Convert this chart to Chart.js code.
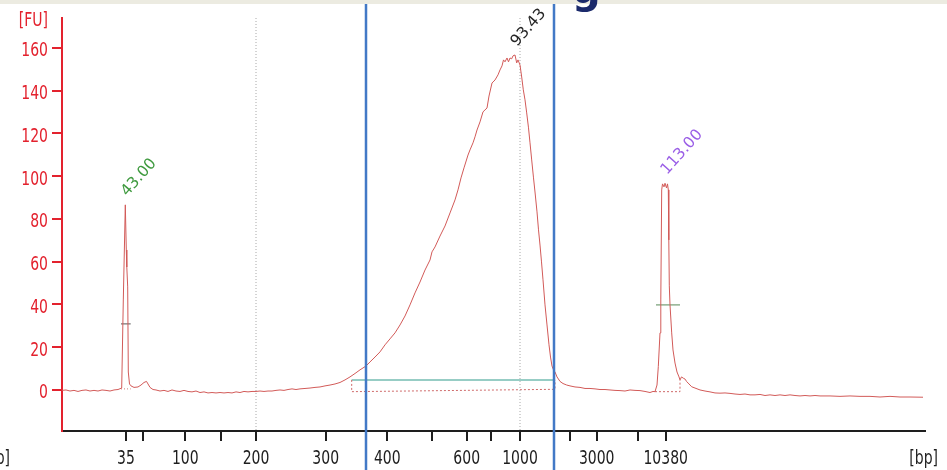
<!DOCTYPE html>
<html>
<head>
<meta charset="utf-8">
<script src="https://cdn.jsdelivr.net/npm/chart.js@4.4.0/dist/chart.umd.min.js"></script>
<style>
  html, body { margin: 0; padding: 0; background: #fff; }
  #wrap { width: 947px; height: 470px; position: relative; }
</style>
</head>
<body>
<div id="wrap"><canvas id="chart" width="947" height="470"></canvas></div>
<script>
// electropherogram trace: migration time (s) and fluorescence (FU)
const traceTime = [
  40.0, 40.4, 40.8, 41.2, 41.6, 42.0, 42.4, 42.8, 43.2, 43.6, 44.0, 44.4, 44.8, 45.2, 45.6, 45.97,
  46.13, 46.33, 46.43, 46.48, 46.57, 46.63, 46.75, 46.9, 47.2, 47.6, 47.9, 48.2, 48.45, 48.6, 48.8,
  49.1, 49.4, 49.8, 50.2, 50.6, 51.0, 51.4, 51.8, 52.2, 52.6, 53.0, 53.4, 53.8, 54.2, 54.6, 55.0,
  55.4, 55.8, 56.2, 56.6, 57.0, 57.4, 57.8, 58.2, 58.6, 59.0, 59.4, 59.8, 60.2, 60.6, 61.0, 61.4,
  61.8, 62.2, 62.6, 63.0, 63.4, 63.8, 64.3, 64.8, 65.3, 65.8, 66.3, 66.8, 67.3, 67.8, 68.3, 68.8,
  69.3, 69.8, 70.4, 70.8, 71.3, 71.8, 72.3, 72.8, 73.3, 73.8, 74.3, 74.8, 75.3, 75.8, 76.3, 76.8,
  77.0, 77.3, 77.8, 78.3, 78.8, 79.3, 79.6, 79.9, 80.2, 80.6, 80.8, 81.1, 81.3, 81.5, 81.8, 82.1,
  82.3, 82.5, 82.7, 83.0, 83.3, 83.6, 83.8, 84.0, 84.15, 84.3, 84.5, 84.65, 84.8, 84.97, 85.1, 85.3,
  85.47, 85.6, 85.8, 85.97, 86.13, 86.3, 86.47, 86.65, 86.8, 86.97, 87.15, 87.3, 87.5, 87.65, 87.8,
  87.95, 88.1, 88.3, 88.5, 88.7, 88.85, 89.0, 89.15, 89.3, 89.5, 89.8, 90.1, 90.47, 90.8, 91.3,
  91.8, 92.3, 92.8, 93.3, 93.8, 94.3, 94.8, 95.3, 95.8, 96.3, 96.8, 97.3, 97.8, 98.3, 98.8, 99.1,
  99.3, 99.5, 99.63, 99.8, 99.88, 99.97, 100.05, 100.2, 100.3, 100.45, 100.55, 100.63, 100.68, 100.73,
  100.8, 100.97, 101.1, 101.3, 101.5, 101.7, 101.8, 101.95, 102.13, 102.3, 102.47, 102.7, 102.97,
  103.3, 103.8, 104.3, 104.8, 105.3, 105.8, 106.3, 106.8, 107.3, 107.8, 108.3, 108.8, 109.3, 109.8,
  110.3, 110.8, 111.3, 111.8, 112.3, 112.8, 113.3, 113.8, 114.3, 114.8, 115.3, 115.8, 116.8, 117.8,
  118.8, 119.8, 120.8, 121.8, 122.8, 123.8, 124.8, 126.1
];
const traceFU = [
  -0.2, 0.0, -0.5, -0.2, -0.7, -0.2, 0.0, -0.5, -0.2, -0.5, 0.0, -0.2, -0.5, 0.0, 0.2, 0.9,
  42.1, 86.6, 65.5, 57.5, 48.2, 8.4, 2.8, 1.9, 1.2, 1.4, 2.3, 3.5, 4.0, 2.8, 1.2,
  0.2, 0.0, -0.5, -0.2, -0.7, 0.0, -0.5, -0.7, -0.2, -0.7, -0.9, -0.5, -1.2, -0.9, -1.4, -1.2,
  -1.4, -1.2, -1.4, -1.2, -1.4, -0.9, -1.2, -0.7, -0.9, -0.7, -0.7, -0.5, -0.7, -0.5, -0.5, -0.2,
  0.0, -0.2, 0.2, 0.5, 0.2, 0.5, 0.7, 0.9, 1.2, 1.4, 1.9, 2.3, 2.8, 3.5, 4.7, 6.1,
  7.7, 9.4, 11.2, 13.1, 15.4, 17.8, 21.1, 23.9, 26.7, 30.4, 34.6, 39.8, 45.4, 50.5, 56.1, 60.8,
  64.6, 66.9, 72.0, 76.7, 82.8, 88.9, 93.6, 99.2, 103.9, 109.9, 112.3, 115.6, 118.4, 121.6, 125.4, 130.1,
  131.0, 131.9, 137.5, 143.6, 145.0, 147.4, 149.7, 151.6, 154.4, 153.5, 155.3, 153.5, 155.3, 154.9, 156.3, 156.7,
  153.0, 154.4, 152.0, 146.4, 140.4, 135.7, 129.6, 122.6, 115.6, 107.6, 99.2, 92.6, 83.3, 74.9, 67.8,
  59.9, 51.5, 39.8, 30.4, 21.1, 15.4, 11.2, 9.4, 8.4, 6.1, 4.0, 3.0, 2.3, 1.9, 1.4,
  1.2, 0.7, 0.7, 0.5, 0.2, 0.2, 0.0, -0.2, -0.3, -0.5, 0.0, -0.2, -0.3, -0.7, -1.2, -0.7,
  -0.8, 2.3, 10.9, 26.7, 42.1, 93.6, 96.4, 95.0, 96.7, 94.5, 96.4, 93.6, 70.2, 48.7,
  39.8, 26.7, 18.7, 12.6, 8.4, 6.1, 4.7, 6.1, 5.5, 5.1, 3.9, 2.8, 1.5,
  0.9, 0.0, -0.5, -0.9, -1.4, -1.5, -1.4, -1.6, -1.9, -2.1, -1.9, -2.3, -2.3, -2.1,
  -2.6, -2.3, -2.6, -2.3, -2.6, -2.3, -2.6, -2.8, -2.6, -2.8, -2.6, -2.8, -2.8, -3.0,
  -2.8, -3.0, -3.0, -3.3, -3.0, -3.3, -3.3, -3.4
];

// ladder sizes (bp) at their migration times
const ladderTime = [46.4, 48.07, 52.33, 55.87, 59.4, 66.37, 72.53, 76.97, 80.47, 82.9, 85.8, 90.8, 93.47, 97.63, 100.37];
const ladderLabel = ['35', '', '100', '', '200', '300', '400', '', '600', '', '1000', '', '3000', '', '10380'];
const fuTicks = [0, 20, 40, 60, 80, 100, 120, 140, 160];

// called peaks
const peakTime = [46.33, 85.3, 100.3];
const peakFU = [86.6, 156.7, 96.7];
const peakLabel = ['43.00', '93.43', '113.00'];

// markers, region and cursors
const lowerMarkerTime = [45.9, 46.87];
const lowerMarkerFU = [30.9, 30.9];
const upperMarkerTime = [99.4, 101.8];
const upperMarkerFU = [39.8, 39.8];
const upperBaseTime = [99.3, 101.8, 101.8];
const upperBaseFU = [-0.8, -0.8, 4.7];
const lowerBaseTime = [45.9, 46.87];
const lowerBaseFU = [0.5, 0.5];
const regionTime = [68.97, 89.3];
const regionFU = [4.7, 4.7];
const regionBoxTime = [68.97, 68.97, 89.3, 89.3];
const regionBoxFU = [4.7, -0.8, 0.3, 4.7];
const guideTime = [59.4, 85.8];
const cursorTime = [70.4, 89.2];

const FU_MIN = -19.2, FU_MAX = 174;
const T_MIN = 40, T_MAX = 126.3;

const pts = (xs, ys) => xs.map((v, i) => ({ x: v, y: ys[i] }));

const RED = '#e3222e';
const INK = '#1e1e1e';
const K = 1.35; // vertical stretch of the source text

function tallText(ctx, text, x, y, align) {
  ctx.save();
  ctx.translate(x, y);
  ctx.scale(1, K);
  ctx.textAlign = align;
  ctx.textBaseline = 'alphabetic';
  ctx.fillText(text, 0, 0);
  ctx.restore();
}

const decor = {
  id: 'decor',
  afterDraw(chart) {
    const { ctx, chartArea, scales: { x, y } } = chart;
    ctx.save();
    ctx.font = '14px "DejaVu Sans"';

    // x tick labels
    ctx.fillStyle = INK;
    ladderTime.forEach((t, i) => {
      if (!ladderLabel[i]) return;
      tallText(ctx, ladderLabel[i], x.getPixelForValue(t), chartArea.bottom + 32.5, 'center');
    });
    tallText(ctx, '[bp]', 938, chartArea.bottom + 33, 'right');
    tallText(ctx, '[bp]', 10, chartArea.bottom + 33, 'right');

    // y tick labels
    ctx.fillStyle = RED;
    fuTicks.forEach(v => {
      tallText(ctx, String(v), chartArea.left - 14, y.getPixelForValue(v) + 8.5, 'right');
    });
    tallText(ctx, '[FU]', chartArea.left - 14, chartArea.top + 7.5, 'right');

    // peak labels
    const peakColor = ['#3f9a3f', '#262626', '#9a5ee6'];
    ctx.font = '15.5px "DejaVu Sans"';
    peakTime.forEach((t, i) => {
      ctx.save();
      ctx.translate(x.getPixelForValue(t) + 2, y.getPixelForValue(peakFU[i]) - 8);
      ctx.rotate(-48.5 * Math.PI / 180);
      ctx.fillStyle = peakColor[i];
      ctx.textAlign = 'left';
      ctx.textBaseline = 'alphabetic';
      ctx.fillText(peakLabel[i], 0, 0);
      ctx.restore();
    });

    // blue region cursors, full height
    ctx.strokeStyle = '#4279c6';
    ctx.lineWidth = 2.5;
    cursorTime.forEach(t => {
      const px = Math.round(x.getPixelForValue(t));
      ctx.beginPath();
      ctx.moveTo(px, 0);
      ctx.lineTo(px, chart.height);
      ctx.stroke();
    });

    // slide band and cut-off title glyph
    ctx.fillStyle = '#ecebe1';
    ctx.fillRect(0, 0, chart.width, 4);
    ctx.fillStyle = '#1b2a6b';
    ctx.font = 'bold 40px "DejaVu Sans"';
    ctx.textAlign = 'left';
    ctx.textBaseline = 'alphabetic';
    ctx.fillText('g', 572, 3);
    ctx.restore();
  }
};

const thin = (color, extra) => Object.assign({
  type: 'line', borderColor: color, borderWidth: 1, pointRadius: 0, tension: 0, order: 1, fill: false
}, extra || {});

new Chart(document.getElementById('chart'), {
  type: 'line',
  data: {
    datasets: [
      thin('#d25a58', { data: pts(traceTime, traceFU), order: 0 }),
      thin('#a8a8a8', { data: pts([guideTime[0], guideTime[0]], [FU_MAX, FU_MIN]), borderDash: [1, 2] }),
      thin('#a8a8a8', { data: pts([guideTime[1], guideTime[1]], [FU_MAX, FU_MIN]), borderDash: [1, 2] }),
      thin('#cf6a6a', { data: pts(regionBoxTime, regionBoxFU), borderDash: [2, 2] }),
      thin('#74bdb2', { data: pts(regionTime, regionFU), borderWidth: 1.5 }),
      thin('#555555', { data: pts(lowerMarkerTime, lowerMarkerFU) }),
      thin('#cf7a7a', { data: pts(lowerBaseTime, lowerBaseFU), borderDash: [1, 2] }),
      thin('#8fb08f', { data: pts(upperMarkerTime, upperMarkerFU), borderWidth: 1.5 }),
      thin('#cf6a6a', { data: pts(upperBaseTime, upperBaseFU), borderDash: [2, 2] })
    ]
  },
  options: {
    responsive: false,
    animation: false,
    events: [],
    layout: { padding: { top: 18, right: 22, bottom: 0, left: 0 } },
    plugins: { legend: { display: false }, tooltip: { enabled: false } },
    scales: {
      x: {
        type: 'linear',
        min: T_MIN,
        max: T_MAX,
        afterBuildTicks: s => { s.ticks = ladderTime.map(v => ({ value: v })); },
        afterFit: s => { s.height = 39; },
        ticks: { display: false },
        grid: { drawOnChartArea: false, drawTicks: true, tickLength: 10, color: INK, lineWidth: 2 },
        border: { color: INK, width: 2 }
      },
      y: {
        type: 'linear',
        min: FU_MIN,
        max: FU_MAX,
        afterBuildTicks: s => { s.ticks = fuTicks.map(v => ({ value: v })); },
        afterFit: s => { s.width = 62; },
        ticks: { display: false },
        grid: { drawOnChartArea: false, drawTicks: true, tickLength: 10, color: RED, lineWidth: 2 },
        border: { color: RED, width: 2 }
      }
    }
  },
  plugins: [decor]
});
</script>
</body>
</html>
